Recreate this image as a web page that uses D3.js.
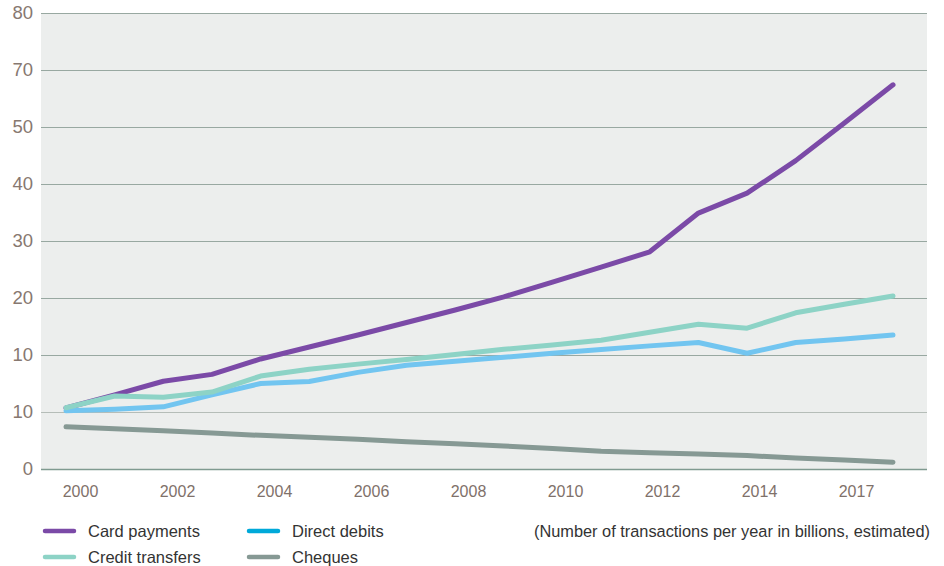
<!DOCTYPE html>
<html>
<head>
<meta charset="utf-8">
<script src="https://cdn.jsdelivr.net/npm/d3@7"></script>
<style>
  html, body { margin: 0; padding: 0; background: #ffffff; }
  svg { display: block; font-family: "Liberation Sans", Arial, Helvetica, sans-serif; }
</style>
</head>
<body>
<svg id="chart" width="944" height="566"></svg>
<script>
// ---- Data ----
const years = [2000,2001,2002,2003,2004,2005,2006,2007,2008,2009,2010,2011,2012,2013,2014,2015,2016,2017];
const cardPayments    = [10.7,13.0,15.4,16.6,19.3,21.4,23.5,25.7,27.9,30.2,32.8,35.4,38.1,44.9,48.4,54.1,60.7,67.4];
const creditTransfers = [10.75,12.8,12.6,13.5,16.3,17.5,18.4,19.2,20.1,21.0,21.75,22.6,24.0,25.4,24.7,27.4,28.9,30.35];
const directDebits    = [10.2,10.5,10.9,13.0,15.0,15.35,16.95,18.2,18.9,19.6,20.3,20.95,21.6,22.2,20.3,22.2,22.8,23.5];
const cheques         = [7.4,7.05,6.7,6.3,5.9,5.55,5.2,4.8,4.45,4.05,3.6,3.1,2.85,2.65,2.35,1.95,1.6,1.2];
const yTickValues = [0,10,20,30,40,50,60,70,80];
const yTickLabels = ["0","10","10","20","30","40","50","70","80"];
const xTickLabels = ["2000","2002","2004","2006","2008","2010","2012","2014","2017"];
const seriesNames = ["Card payments","Direct debits","Credit transfers","Cheques"];
const note = "(Number of transactions per year in billions, estimated)";

// ---- Styles ----
const lineColors   = {"Card payments":"#7b4aa7","Credit transfers":"#8dd3c6","Direct debits":"#72c5f0","Cheques":"#869994"};
const legendColors = {"Card payments":"#7b4aa7","Credit transfers":"#8dd3c6","Direct debits":"#00a9d9","Cheques":"#869994"};

const series = [
  {name:"Card payments", values:cardPayments},
  {name:"Direct debits", values:directDebits},
  {name:"Credit transfers", values:creditTransfers},
  {name:"Cheques", values:cheques}
];

const svg = d3.select("#chart");
const plotLeft = 41, plotRight = 927, plotTop = 13, plotBottom = 469;

const x = d3.scaleLinear().domain([2000,2017]).range([66,893]);
const xLab = d3.scalePoint().domain(xTickLabels).range([80,856]);
const y = d3.scaleLinear().domain([0,80]).range([plotBottom, plotTop]);

// background
svg.append("rect")
  .attr("x", plotLeft).attr("y", plotTop)
  .attr("width", plotRight - plotLeft).attr("height", plotBottom - plotTop)
  .attr("fill", "#eceeed");

// gridlines
svg.append("g").selectAll("line")
  .data(yTickValues.filter(v => v > 0))
  .join("line")
  .attr("x1", plotLeft).attr("x2", plotRight)
  .attr("y1", d => y(d) + 0.5).attr("y2", d => y(d) + 0.5)
  .attr("stroke", (d) => d === 10 ? "#b5bdb8" : "#98a8a1")
  .attr("stroke-width", 1.2);

// y axis labels
const yAxis = svg.append("g")
  .attr("transform", `translate(${plotLeft},0)`)
  .call(d3.axisLeft(y).tickValues(yTickValues).tickSize(0).tickPadding(8)
        .tickFormat((d,i) => yTickLabels[i]));
yAxis.select(".domain").remove();
yAxis.selectAll("text")
  .attr("fill", "#877870")
  .style("font-size", "18.5px");

// x axis
const xAxis = svg.append("g")
  .attr("transform", `translate(0,${plotBottom})`)
  .call(d3.axisBottom(xLab).tickSize(0).tickPadding(17));
xAxis.select(".domain").remove();
xAxis.selectAll("text")
  .attr("fill", "#7f716a")
  .style("font-size", "16px");

svg.append("line")
  .attr("x1", plotLeft).attr("x2", plotRight)
  .attr("y1", plotBottom + 0.5).attr("y2", plotBottom + 0.5)
  .attr("stroke", "#7f9a90").attr("stroke-width", 1.5);

// lines
const line = d3.line()
  .x((d,i) => x(years[i]))
  .y(d => y(d));

svg.append("g").selectAll("path")
  .data(series)
  .join("path")
  .attr("d", d => line(d.values))
  .attr("fill", "none")
  .attr("stroke", d => lineColors[d.name])
  .attr("stroke-width", 5)
  .attr("stroke-linecap", "round")
  .attr("stroke-linejoin", "round");

// legend
const legendPos = {
  "Card payments":[43,531],
  "Direct debits":[247,531],
  "Credit transfers":[43,557],
  "Cheques":[247,557]
};
const lg = svg.append("g").selectAll("g")
  .data(seriesNames)
  .join("g")
  .attr("transform", d => `translate(${legendPos[d][0]},${legendPos[d][1]})`);
lg.append("line")
  .attr("x1", 2).attr("x2", 31).attr("y1", 0).attr("y2", 0)
  .attr("stroke", d => legendColors[d])
  .attr("stroke-width", 4.5)
  .attr("stroke-linecap", "round");
lg.append("text")
  .attr("x", 45).attr("y", 6)
  .attr("fill", "#333333")
  .style("font-size", "16.5px")
  .text(d => d);

svg.append("text")
  .attr("x", 930).attr("y", 537)
  .attr("text-anchor", "end")
  .attr("fill", "#333333")
  .style("font-size", "16.35px")
  .text(note);
</script>
</body>
</html>
